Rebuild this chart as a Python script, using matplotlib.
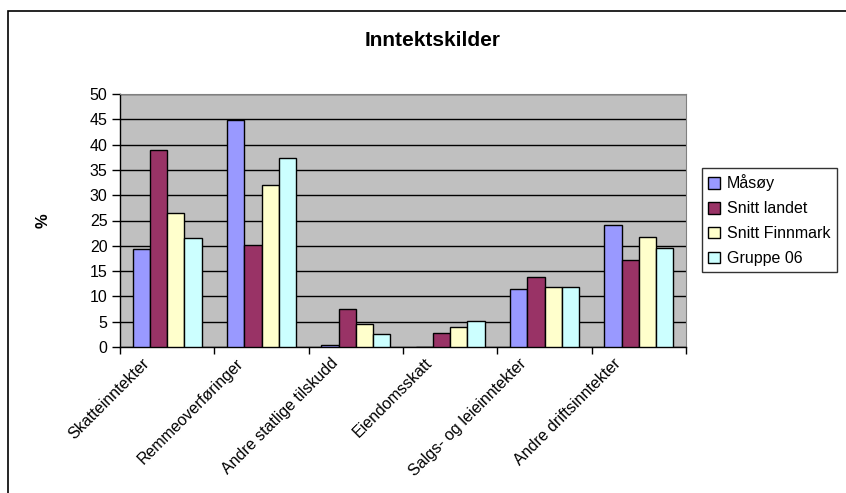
import numpy as np
import matplotlib
matplotlib.use("Agg")
import matplotlib.pyplot as plt
from matplotlib.patches import Rectangle
from matplotlib.transforms import ScaledTranslation

categories = ["Skatteinntekter", "Remmeoverføringer", "Andre statlige tilskudd",
              "Eiendomsskatt", "Salgs- og leieinntekter", "Andre driftsinntekter"]
series_names = ["Måsøy", "Snitt landet", "Snitt Finnmark", "Gruppe 06"]
masoy = [19.4, 44.8, 0.3, 0.0, 11.5, 24.1]
snitt_landet = [39.0, 20.1, 7.5, 2.8, 13.8, 17.1]
snitt_finnmark = [26.4, 32.0, 4.5, 4.0, 11.8, 21.7]
gruppe_06 = [21.6, 37.3, 2.5, 5.1, 11.8, 19.6]
colors = ["#9999FF", "#993366", "#FFFFCC", "#CCFFFF"]

plt.rcParams["font.family"] = ["Liberation Sans", "DejaVu Sans"]

W, H = 846, 493
fig = plt.figure(figsize=(W / 100, H / 100), dpi=100)

# outer chart border (only left/top visible)
fig.patches.append(Rectangle((8 / W, -0.05), 1.1, (H - 11) / H + 0.05,
                             transform=fig.transFigure, fill=False,
                             edgecolor="black", lw=1.2))

ax = fig.add_axes([120 / W, (H - 347) / H, (686 - 120) / W, (347 - 94) / H])
ax.set_facecolor("#C0C0C0")

x = np.arange(len(categories))
w = 0.182
all_series = [masoy, snitt_landet, snitt_finnmark, gruppe_06]
for i, (vals, name, c) in enumerate(zip(all_series, series_names, colors)):
    ax.bar(x + (i - 1.5) * w, vals, w, color=c, edgecolor="black", lw=1,
           label=name, zorder=3)

ax.set_xlim(-0.5, len(categories) - 0.5)
ax.set_ylim(0, 50)
ax.set_yticks(np.arange(0, 51, 5))
ax.yaxis.grid(True, color="black", lw=1, zorder=1)
ax.set_axisbelow(True)

# category boundaries get the tick marks, labels sit on the centres
ax.set_xticks(np.arange(-0.5, len(categories), 1))
ax.set_xticklabels([])
ax.set_xticks(x, minor=True)
ax.set_xticklabels(categories, minor=True, rotation=45, ha="right",
                   va="center", rotation_mode="anchor", fontsize=11.5)
ax.tick_params(axis="x", which="minor", length=0, pad=10)
shift = ScaledTranslation(-20 / 100, 0, fig.dpi_scale_trans)
for lbl in ax.get_xticklabels(minor=True):
    lbl.set_transform(lbl.get_transform() + shift)
ax.tick_params(axis="x", which="major", length=5, width=1, color="black")
ax.tick_params(axis="y", length=6, width=1, labelsize=11.5, pad=3)

for s in ["top", "right"]:
    ax.spines[s].set_color("#808080")
for s in ["left", "bottom"]:
    ax.spines[s].set_color("black")
    ax.spines[s].set_linewidth(1)

ax.set_ylabel("%", fontsize=12, fontweight="bold", labelpad=28)

fig.text(433 / W, (H - 40) / H, "Inntektskilder", ha="center", va="center",
         fontsize=15, fontweight="bold")

leg = fig.legend(loc="upper left", bbox_to_anchor=(702 / W, (H - 168) / H),
                 fontsize=11.5, frameon=True, fancybox=False, shadow=False,
                 handlelength=0.75, handleheight=0.75, handletextpad=0.4,
                 borderpad=0.4, labelspacing=0.62, borderaxespad=0)
leg.get_frame().set_edgecolor("black")
leg.get_frame().set_linewidth(1)

fig.savefig("out.png", dpi=100, facecolor="white")
